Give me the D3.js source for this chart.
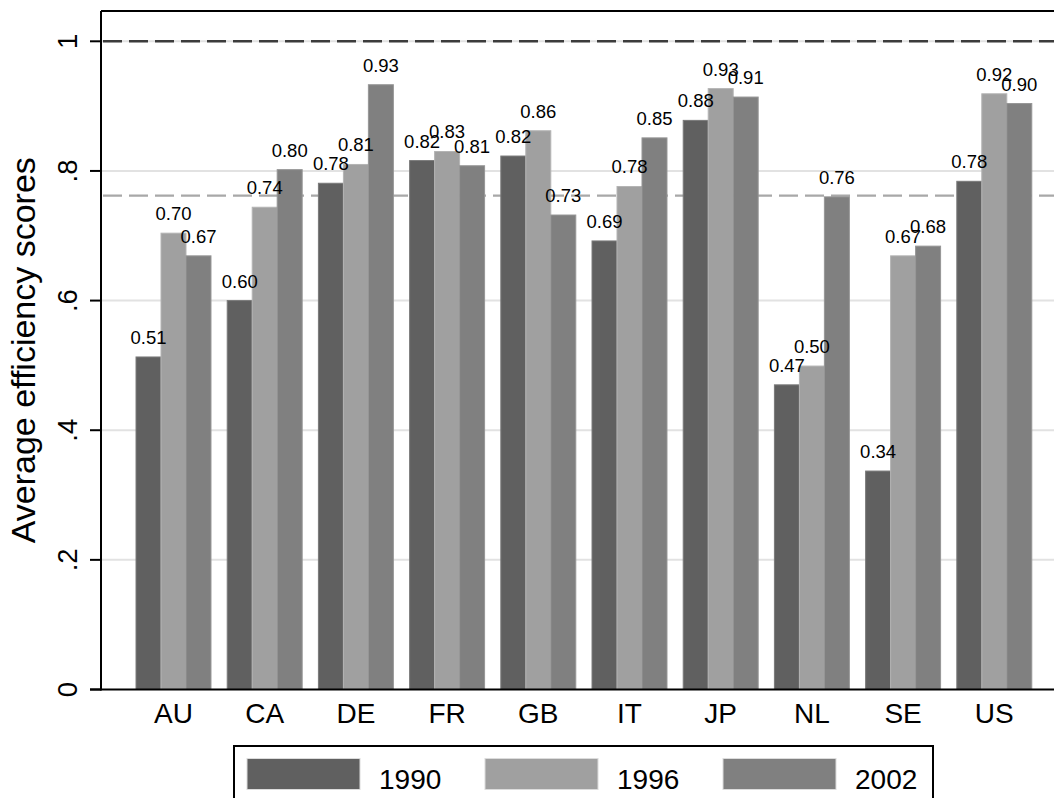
<!DOCTYPE html>
<html><head><meta charset="utf-8">
<script src="https://cdn.jsdelivr.net/npm/d3@7"></script>
<style>body{margin:0;background:#fff}svg{display:block}text{font-family:"Liberation Sans",Arial,Helvetica,sans-serif}</style>
</head><body>
<script>
const countries = ["AU","CA","DE","FR","GB","IT","JP","NL","SE","US"];
const years = ["1990","1996","2002"];
const v1990 = [0.513,0.600,0.781,0.816,0.823,0.692,0.878,0.470,0.337,0.784];
const v1996 = [0.704,0.744,0.810,0.830,0.862,0.776,0.927,0.499,0.669,0.919];
const v2002 = [0.669,0.802,0.933,0.808,0.732,0.851,0.914,0.760,0.684,0.904];
const yTicks = [0,0.2,0.4,0.6,0.8,1];
const yTickLabels = ["0",".2",".4",".6",".8","1"];
const meanLine = 0.762;
const colors = ["#606060","#a0a0a0","#808080"];
const strokes = ["#7a7a7a","#b4b4b4","#969696"];

(function(){
const W=1054,H=798;
const svg=d3.select("body").append("svg").attr("width",W).attr("height",H);
const pLeft=101,pRight=1054,pTop=11;
const y=d3.scaleLinear().domain([0,1]).range([689.5,41.3]);
const x=d3.scaleBand().domain(countries).range([127.9,1039.9]).paddingInner(0.178).paddingOuter(0.089);
const xs=d3.scaleBand().domain(years).range([0,x.bandwidth()]);
const series=[v1990,v1996,v2002];

svg.append("g").selectAll("line").data(yTicks.filter(d=>d>0)).join("line")
  .attr("x1",pLeft).attr("x2",pRight).attr("y1",d=>y(d)).attr("y2",d=>y(d))
  .attr("stroke","#e2e2e2").attr("stroke-width",2);
svg.append("line").attr("x1",pLeft).attr("x2",pRight).attr("y1",y(1)).attr("y2",y(1))
  .attr("stroke","#3c3c3c").attr("stroke-width",2.5).attr("stroke-dasharray","19,7").attr("stroke-dashoffset",-2);
svg.append("line").attr("x1",pLeft).attr("x2",pRight).attr("y1",y(meanLine)).attr("y2",y(meanLine))
  .attr("stroke","#a8a8a8").attr("stroke-width",2.2).attr("stroke-dasharray","19,7").attr("stroke-dashoffset",-2);

const fmt=d3.format(".2f");
years.forEach((yr,k)=>{
  svg.append("g").selectAll("rect").data(countries).join("rect")
    .attr("x",c=>x(c)+xs(yr)).attr("width",xs.bandwidth())
    .attr("y",(c,i)=>y(series[k][i])).attr("height",(c,i)=>y(0)-y(series[k][i]))
    .attr("fill",colors[k]).attr("stroke",strokes[k]).attr("stroke-width",1);
});
years.forEach((yr,k)=>{
  svg.append("g").selectAll("text").data(countries).join("text")
    .attr("x",c=>x(c)+xs(yr)+xs.bandwidth()/2)
    .attr("y",(c,i)=>y(series[k][i])-13)
    .attr("text-anchor","middle").attr("font-size",18.5).attr("fill","#000")
    .text((c,i)=>fmt(series[k][i]));
});

svg.append("line").attr("x1",pLeft).attr("x2",pRight).attr("y1",pTop).attr("y2",pTop).attr("stroke","#000").attr("stroke-width",2);
svg.append("line").attr("x1",pLeft).attr("x2",pLeft).attr("y1",pTop).attr("y2",y(0)+1).attr("stroke","#000").attr("stroke-width",2);
svg.append("line").attr("x1",90).attr("x2",pRight).attr("y1",y(0)).attr("y2",y(0)).attr("stroke","#000").attr("stroke-width",2);

svg.append("g").selectAll("line").data(yTicks).join("line")
  .attr("x1",90).attr("x2",pLeft).attr("y1",d=>y(d)).attr("y2",d=>y(d)).attr("stroke","#000").attr("stroke-width",2);
svg.append("g").selectAll("text").data(yTicks).join("text")
  .attr("transform",d=>`translate(77,${y(d)}) rotate(-90)`)
  .attr("text-anchor","middle").attr("font-size",27.5).text((d,i)=>yTickLabels[i]);
svg.append("text").attr("transform",`translate(35,${(pTop+y(0))/2}) rotate(-90)`)
  .attr("text-anchor","middle").attr("font-size",34).text("Average efficiency scores");

svg.append("g").selectAll("text").data(countries).join("text")
  .attr("x",c=>x(c)+x.bandwidth()/2).attr("y",723)
  .attr("text-anchor","middle").attr("font-size",28).text(c=>c);

svg.append("rect").attr("x",234).attr("y",746).attr("width",699).attr("height",80)
  .attr("fill","none").attr("stroke","#000").attr("stroke-width",2);
years.forEach((yr,k)=>{
  const x0=247+k*238;
  svg.append("rect").attr("x",x0).attr("y",758.5).attr("width",113).attr("height",31)
    .attr("fill",colors[k]).attr("stroke","#dcdcdc").attr("stroke-width",1);
  svg.append("text").attr("x",x0+132).attr("y",788.5).attr("font-size",28).text(yr);
});
})();
</script>
</body></html>
